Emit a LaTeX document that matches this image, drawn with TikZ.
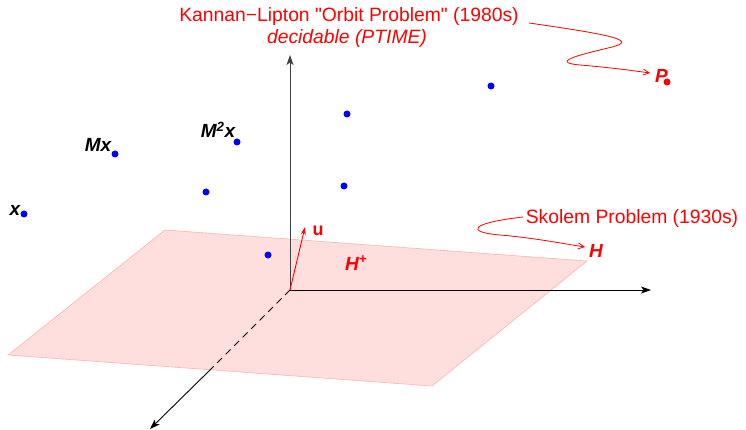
\documentclass[tikz,border=0pt]{standalone}
\usepackage{fontspec}
\setmainfont{Liberation Sans}
\usetikzlibrary{arrows.meta}
\begin{document}
\begin{tikzpicture}[x=1pt,y=-1pt,
  axis/.style={line width=0.9pt,-{Stealth[length=10pt,width=7pt,inset=2.5pt]}},
  dot/.style={circle,fill=blue,inner sep=0pt,minimum size=7pt},
  reddot/.style={circle,fill=red,inner sep=0pt,minimum size=7pt},
  lab/.style={font=\fontsize{19}{22}\selectfont\bfseries\itshape,inner sep=0pt},
  redtxt/.style={text=red,font=\fontsize{19.3}{23}\selectfont,inner sep=0pt},
  redlab/.style={text=red,font=\fontsize{19}{22}\selectfont\bfseries\itshape,inner sep=0pt},
  snakearrow/.style={red,line width=0.8pt,-{Straight Barb[length=6pt,width=6pt]}}]
\useasboundingbox (0,0) rectangle (746,430);
% plane
\coordinate (TL) at (165,230);
\coordinate (TR) at (587,261);
\coordinate (BR) at (432,386);
\coordinate (BL) at (8,355);
\filldraw[fill=red!13, draw=red!30, line width=0.6pt] (TL) -- (TR) -- (BR) -- (BL) -- cycle;
% axes
\coordinate (O) at (290,290);
\coordinate (zt) at (290,55);
\coordinate (yt) at (651,290);
\coordinate (xe) at (210,370);
\coordinate (xt) at (150,429);
\draw[axis, black!75] (O) -- (zt);
\draw[axis] (O) -- (yt);
\draw[line width=0.9pt, dash pattern=on 7pt off 5pt] (O) -- (xe);
\draw[axis] (xe) -- (xt);
% normal vector
\coordinate (ut) at (305,227);
\draw[red, line width=0.9pt, -{Stealth[length=8pt,width=5pt]}] (O) -- (ut);
\node[text=red, font=\fontsize{18}{21}\selectfont\bfseries, inner sep=0pt, anchor=base] (u) at (318,236) {u};
\node[redlab, anchor=base west] (Hp) at (345,270) {H\textsuperscript{+}};
\node[redlab, anchor=base west] (H) at (589,257) {H};
% orbit points
\node[dot] (d0) at (24,214) {};
\node[dot] (d1) at (115,154) {};
\node[dot] (d2) at (237,142) {};
\node[dot] (d3) at (206,192) {};
\node[dot] (d4) at (268,255) {};
\node[dot] (d5) at (347,114) {};
\node[dot] (d6) at (344,186) {};
\node[dot] (d7) at (491,86) {};
\node[lab, anchor=base] (lx) at (15,215) {x};
\node[lab, anchor=base] (lMx) at (98,152) {Mx};
\node[lab, anchor=base] (lM2x) at (218,138) {M\textsuperscript{2}x};
% P
\node[reddot] (Pdot) at (667,82) {};
\node[redlab, anchor=base west] (P) at (655,83) {P};
% texts
\node[redtxt, anchor=base] (kl) at (349,22) {Kannan−Lipton \textquotedbl Orbit Problem\textquotedbl{} (1980s)};
\node[redtxt, anchor=base, font=\fontsize{19.3}{23}\selectfont\itshape] (dec) at (347,44) {decidable (PTIME)};
\node[redtxt, anchor=base] (sk) at (632,224) {Skolem Problem (1930s)};
% snake arrows
\coordinate (ks) at (529,23);
\coordinate (ke) at (650,73);
\draw[snakearrow] (ks) .. controls (605,34) and (640,40) .. (612,47)
  .. controls (590,52.5) and (545,62) .. (580,65)
  .. controls (615,68) and (635,71) .. (ke);
\coordinate (ss) at (523,217);
\coordinate (se) at (585,247);
\draw[snakearrow] (ss) .. controls (470,223) and (465,232) .. (500,235)
  .. controls (535,238) and (565,244) .. (se);
\end{tikzpicture}
\end{document}
